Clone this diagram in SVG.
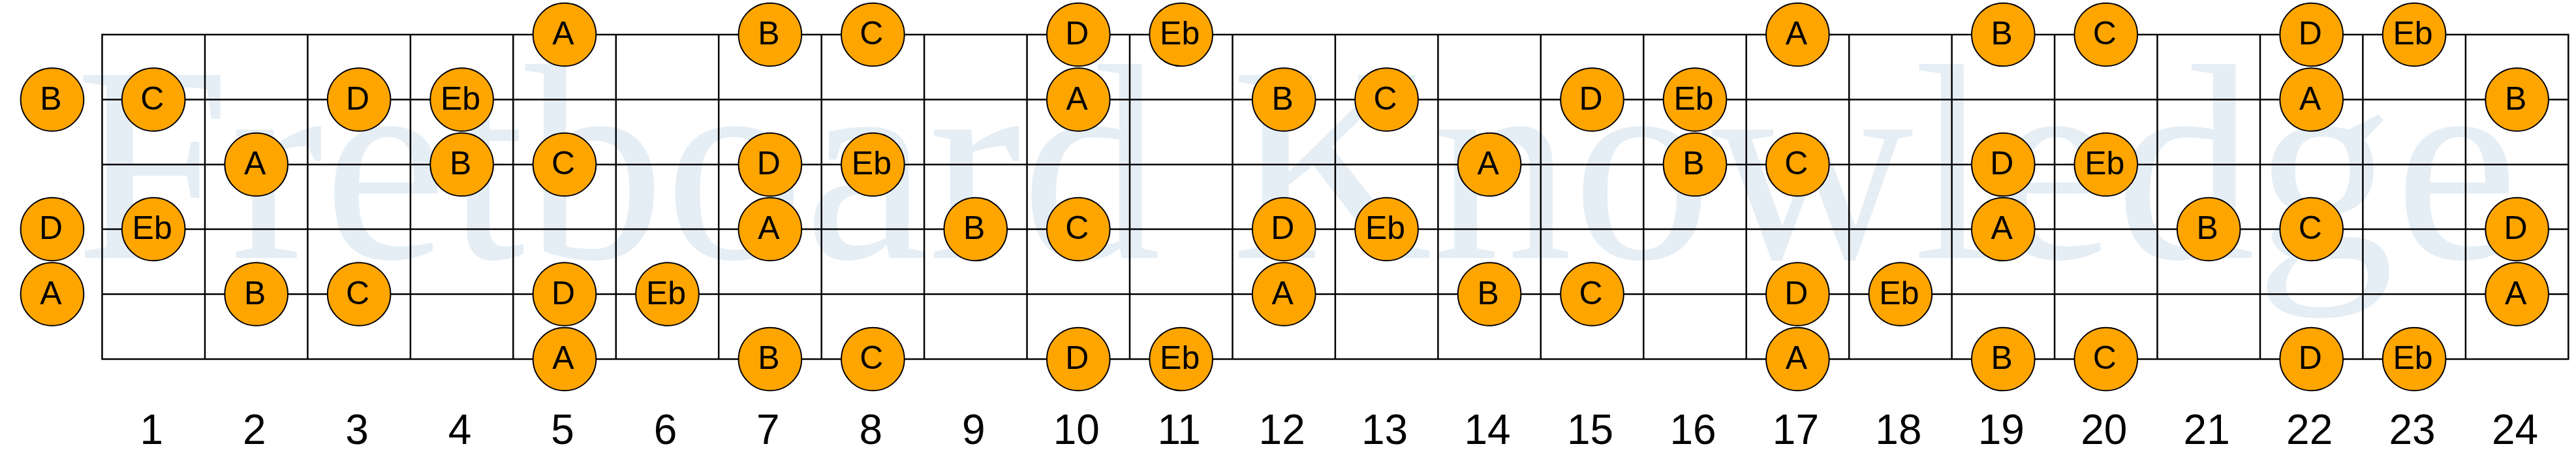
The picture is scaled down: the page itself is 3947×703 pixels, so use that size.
<svg xmlns="http://www.w3.org/2000/svg" width="3947" height="703" viewBox="0 0 3947 703">
<style>
.wm{font-family:"Liberation Serif","Times New Roman",serif;font-size:428px;fill:#e5eef5}
.grid{fill:none;stroke:#000;stroke-width:2.5}
.fret{stroke:#000;stroke-width:2.5}
.note circle{fill:#ffa500;stroke:#000;stroke-width:2}
.note text{font-family:"Liberation Sans",Arial,sans-serif;font-size:50px;fill:#000;text-anchor:middle}
.num{font-family:"Liberation Sans",Arial,sans-serif;font-size:64px;fill:#000;text-anchor:middle}
</style>
<rect width="3947" height="703" fill="#fff"/>
<text class="wm" x="115" y="395">Fretboard Knowledge</text>
<g id="fretboard">
<rect class="grid" x="156.5" y="53" width="3778.8" height="497"/>
<g class="fret">
<line x1="314" y1="53" x2="314" y2="550"/>
<line x1="471.4" y1="53" x2="471.4" y2="550"/>
<line x1="628.9" y1="53" x2="628.9" y2="550"/>
<line x1="786.3" y1="53" x2="786.3" y2="550"/>
<line x1="943.8" y1="53" x2="943.8" y2="550"/>
<line x1="1101.2" y1="53" x2="1101.2" y2="550"/>
<line x1="1258.7" y1="53" x2="1258.7" y2="550"/>
<line x1="1416.1" y1="53" x2="1416.1" y2="550"/>
<line x1="1573.6" y1="53" x2="1573.6" y2="550"/>
<line x1="1731" y1="53" x2="1731" y2="550"/>
<line x1="1888.5" y1="53" x2="1888.5" y2="550"/>
<line x1="2045.9" y1="53" x2="2045.9" y2="550"/>
<line x1="2203.4" y1="53" x2="2203.4" y2="550"/>
<line x1="2360.8" y1="53" x2="2360.8" y2="550"/>
<line x1="2518.3" y1="53" x2="2518.3" y2="550"/>
<line x1="2675.7" y1="53" x2="2675.7" y2="550"/>
<line x1="2833.2" y1="53" x2="2833.2" y2="550"/>
<line x1="2990.6" y1="53" x2="2990.6" y2="550"/>
<line x1="3148.1" y1="53" x2="3148.1" y2="550"/>
<line x1="3305.5" y1="53" x2="3305.5" y2="550"/>
<line x1="3463" y1="53" x2="3463" y2="550"/>
<line x1="3620.4" y1="53" x2="3620.4" y2="550"/>
<line x1="3777.9" y1="53" x2="3777.9" y2="550"/>
<line x1="156.5" y1="152.5" x2="3935.3" y2="152.5"/>
<line x1="156.5" y1="252" x2="3935.3" y2="252"/>
<line x1="156.5" y1="351" x2="3935.3" y2="351"/>
<line x1="156.5" y1="450.5" x2="3935.3" y2="450.5"/>
</g>
</g>
<g id="s1">
<g class="note" id="s1f5"><circle cx="865" cy="53" r="48.3"/><text x="863" y="68">A</text></g>
<g class="note" id="s1f7"><circle cx="1179.9" cy="53" r="48.3"/><text x="1177.9" y="68">B</text></g>
<g class="note" id="s1f8"><circle cx="1337.4" cy="53" r="48.3"/><text x="1335.4" y="68">C</text></g>
<g class="note" id="s1f10"><circle cx="1652.3" cy="53" r="48.3"/><text x="1650.3" y="68">D</text></g>
<g class="note" id="s1f11"><circle cx="1809.7" cy="53" r="48.3"/><text x="1807.7" y="68">Eb</text></g>
<g class="note" id="s1f17"><circle cx="2754.4" cy="53" r="48.3"/><text x="2752.4" y="68">A</text></g>
<g class="note" id="s1f19"><circle cx="3069.3" cy="53" r="48.3"/><text x="3067.3" y="68">B</text></g>
<g class="note" id="s1f20"><circle cx="3226.8" cy="53" r="48.3"/><text x="3224.8" y="68">C</text></g>
<g class="note" id="s1f22"><circle cx="3541.7" cy="53" r="48.3"/><text x="3539.7" y="68">D</text></g>
<g class="note" id="s1f23"><circle cx="3699.1" cy="53" r="48.3"/><text x="3697.1" y="68">Eb</text></g>
</g>
<g id="s2">
<g class="note" id="s2f0"><circle cx="80" cy="152.5" r="48.3"/><text x="78" y="167.5">B</text></g>
<g class="note" id="s2f1"><circle cx="235.2" cy="152.5" r="48.3"/><text x="233.2" y="167.5">C</text></g>
<g class="note" id="s2f3"><circle cx="550.1" cy="152.5" r="48.3"/><text x="548.1" y="167.5">D</text></g>
<g class="note" id="s2f4"><circle cx="707.6" cy="152.5" r="48.3"/><text x="705.6" y="167.5">Eb</text></g>
<g class="note" id="s2f10"><circle cx="1652.3" cy="152.5" r="48.3"/><text x="1650.3" y="167.5">A</text></g>
<g class="note" id="s2f12"><circle cx="1967.2" cy="152.5" r="48.3"/><text x="1965.2" y="167.5">B</text></g>
<g class="note" id="s2f13"><circle cx="2124.6" cy="152.5" r="48.3"/><text x="2122.6" y="167.5">C</text></g>
<g class="note" id="s2f15"><circle cx="2439.5" cy="152.5" r="48.3"/><text x="2437.5" y="167.5">D</text></g>
<g class="note" id="s2f16"><circle cx="2597" cy="152.5" r="48.3"/><text x="2595" y="167.5">Eb</text></g>
<g class="note" id="s2f22"><circle cx="3541.7" cy="152.5" r="48.3"/><text x="3539.7" y="167.5">A</text></g>
<g class="note" id="s2f24"><circle cx="3856.6" cy="152.5" r="48.3"/><text x="3854.6" y="167.5">B</text></g>
</g>
<g id="s3">
<g class="note" id="s3f2"><circle cx="392.7" cy="252" r="48.3"/><text x="390.7" y="267">A</text></g>
<g class="note" id="s3f4"><circle cx="707.6" cy="252" r="48.3"/><text x="705.6" y="267">B</text></g>
<g class="note" id="s3f5"><circle cx="865" cy="252" r="48.3"/><text x="863" y="267">C</text></g>
<g class="note" id="s3f7"><circle cx="1179.9" cy="252" r="48.3"/><text x="1177.9" y="267">D</text></g>
<g class="note" id="s3f8"><circle cx="1337.4" cy="252" r="48.3"/><text x="1335.4" y="267">Eb</text></g>
<g class="note" id="s3f14"><circle cx="2282.1" cy="252" r="48.3"/><text x="2280.1" y="267">A</text></g>
<g class="note" id="s3f16"><circle cx="2597" cy="252" r="48.3"/><text x="2595" y="267">B</text></g>
<g class="note" id="s3f17"><circle cx="2754.4" cy="252" r="48.3"/><text x="2752.4" y="267">C</text></g>
<g class="note" id="s3f19"><circle cx="3069.3" cy="252" r="48.3"/><text x="3067.3" y="267">D</text></g>
<g class="note" id="s3f20"><circle cx="3226.8" cy="252" r="48.3"/><text x="3224.8" y="267">Eb</text></g>
</g>
<g id="s4">
<g class="note" id="s4f0"><circle cx="80" cy="351" r="48.3"/><text x="78" y="366">D</text></g>
<g class="note" id="s4f1"><circle cx="235.2" cy="351" r="48.3"/><text x="233.2" y="366">Eb</text></g>
<g class="note" id="s4f7"><circle cx="1179.9" cy="351" r="48.3"/><text x="1177.9" y="366">A</text></g>
<g class="note" id="s4f9"><circle cx="1494.8" cy="351" r="48.3"/><text x="1492.8" y="366">B</text></g>
<g class="note" id="s4f10"><circle cx="1652.3" cy="351" r="48.3"/><text x="1650.3" y="366">C</text></g>
<g class="note" id="s4f12"><circle cx="1967.2" cy="351" r="48.3"/><text x="1965.2" y="366">D</text></g>
<g class="note" id="s4f13"><circle cx="2124.6" cy="351" r="48.3"/><text x="2122.6" y="366">Eb</text></g>
<g class="note" id="s4f19"><circle cx="3069.3" cy="351" r="48.3"/><text x="3067.3" y="366">A</text></g>
<g class="note" id="s4f21"><circle cx="3384.2" cy="351" r="48.3"/><text x="3382.2" y="366">B</text></g>
<g class="note" id="s4f22"><circle cx="3541.7" cy="351" r="48.3"/><text x="3539.7" y="366">C</text></g>
<g class="note" id="s4f24"><circle cx="3856.6" cy="351" r="48.3"/><text x="3854.6" y="366">D</text></g>
</g>
<g id="s5">
<g class="note" id="s5f0"><circle cx="80" cy="450.5" r="48.3"/><text x="78" y="465.5">A</text></g>
<g class="note" id="s5f2"><circle cx="392.7" cy="450.5" r="48.3"/><text x="390.7" y="465.5">B</text></g>
<g class="note" id="s5f3"><circle cx="550.1" cy="450.5" r="48.3"/><text x="548.1" y="465.5">C</text></g>
<g class="note" id="s5f5"><circle cx="865" cy="450.5" r="48.3"/><text x="863" y="465.5">D</text></g>
<g class="note" id="s5f6"><circle cx="1022.5" cy="450.5" r="48.3"/><text x="1020.5" y="465.5">Eb</text></g>
<g class="note" id="s5f12"><circle cx="1967.2" cy="450.5" r="48.3"/><text x="1965.2" y="465.5">A</text></g>
<g class="note" id="s5f14"><circle cx="2282.1" cy="450.5" r="48.3"/><text x="2280.1" y="465.5">B</text></g>
<g class="note" id="s5f15"><circle cx="2439.5" cy="450.5" r="48.3"/><text x="2437.5" y="465.5">C</text></g>
<g class="note" id="s5f17"><circle cx="2754.4" cy="450.5" r="48.3"/><text x="2752.4" y="465.5">D</text></g>
<g class="note" id="s5f18"><circle cx="2911.9" cy="450.5" r="48.3"/><text x="2909.9" y="465.5">Eb</text></g>
<g class="note" id="s5f24"><circle cx="3856.6" cy="450.5" r="48.3"/><text x="3854.6" y="465.5">A</text></g>
</g>
<g id="s6">
<g class="note" id="s6f5"><circle cx="865" cy="550" r="48.3"/><text x="863" y="565">A</text></g>
<g class="note" id="s6f7"><circle cx="1179.9" cy="550" r="48.3"/><text x="1177.9" y="565">B</text></g>
<g class="note" id="s6f8"><circle cx="1337.4" cy="550" r="48.3"/><text x="1335.4" y="565">C</text></g>
<g class="note" id="s6f10"><circle cx="1652.3" cy="550" r="48.3"/><text x="1650.3" y="565">D</text></g>
<g class="note" id="s6f11"><circle cx="1809.7" cy="550" r="48.3"/><text x="1807.7" y="565">Eb</text></g>
<g class="note" id="s6f17"><circle cx="2754.4" cy="550" r="48.3"/><text x="2752.4" y="565">A</text></g>
<g class="note" id="s6f19"><circle cx="3069.3" cy="550" r="48.3"/><text x="3067.3" y="565">B</text></g>
<g class="note" id="s6f20"><circle cx="3226.8" cy="550" r="48.3"/><text x="3224.8" y="565">C</text></g>
<g class="note" id="s6f22"><circle cx="3541.7" cy="550" r="48.3"/><text x="3539.7" y="565">D</text></g>
<g class="note" id="s6f23"><circle cx="3699.1" cy="550" r="48.3"/><text x="3697.1" y="565">Eb</text></g>
</g>
<g id="fret-numbers">
<text class="num" x="232.2" y="680">1</text>
<text class="num" x="389.7" y="680">2</text>
<text class="num" x="547.1" y="680">3</text>
<text class="num" x="704.6" y="680">4</text>
<text class="num" x="862" y="680">5</text>
<text class="num" x="1019.5" y="680">6</text>
<text class="num" x="1176.9" y="680">7</text>
<text class="num" x="1334.4" y="680">8</text>
<text class="num" x="1491.8" y="680">9</text>
<text class="num" x="1649.3" y="680">10</text>
<text class="num" x="1806.7" y="680">11</text>
<text class="num" x="1964.2" y="680">12</text>
<text class="num" x="2121.6" y="680">13</text>
<text class="num" x="2279.1" y="680">14</text>
<text class="num" x="2436.5" y="680">15</text>
<text class="num" x="2594" y="680">16</text>
<text class="num" x="2751.4" y="680">17</text>
<text class="num" x="2908.9" y="680">18</text>
<text class="num" x="3066.3" y="680">19</text>
<text class="num" x="3223.8" y="680">20</text>
<text class="num" x="3381.2" y="680">21</text>
<text class="num" x="3538.7" y="680">22</text>
<text class="num" x="3696.1" y="680">23</text>
<text class="num" x="3853.6" y="680">24</text>
</g>
</svg>
